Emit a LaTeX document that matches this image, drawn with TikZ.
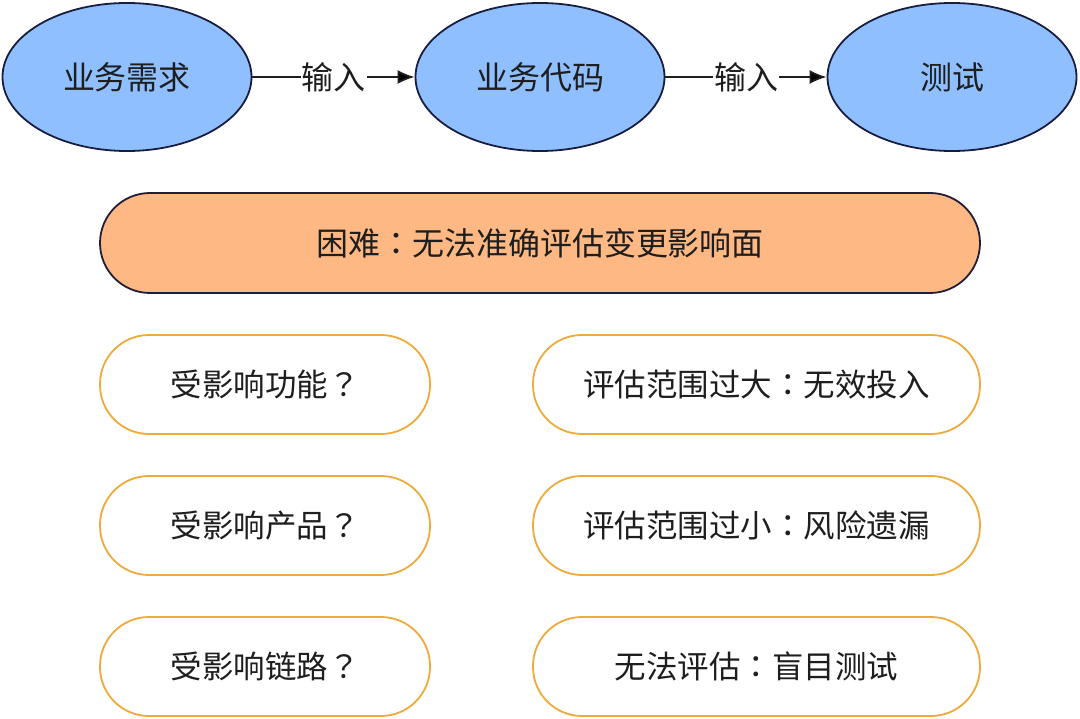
\documentclass[tikz,border=0pt]{standalone}
\usepackage{fontspec}
\setmainfont{Noto Sans CJK SC}
\newfontfamily\punctfont{Noto Sans CJK JP}
\newcommand\qcolon{{\punctfont ：}}
\newcommand\qmark{{\punctfont ？}}
\usetikzlibrary{arrows.meta, shapes.geometric}

\definecolor{ellblue}{RGB}{143,191,255}
\definecolor{ellline}{RGB}{26,30,62}
\definecolor{hardfill}{RGB}{253,184,131}
\definecolor{hardline}{RGB}{34,30,56}
\definecolor{pillline}{RGB}{238,170,58}
\definecolor{txt}{RGB}{30,30,30}

\begin{document}
\begin{tikzpicture}[x=1pt,y=-1pt,>={Latex[length=17pt,width=14pt]},
  every node/.style={text=txt,font=\fontsize{32}{38}\selectfont},
  stage/.style={ellipse,draw=ellline,fill=ellblue,line width=1.8pt,
    minimum width=249pt,minimum height=148pt,inner sep=0pt},
  hard/.style={rectangle,rounded corners=50pt,draw=hardline,fill=hardfill,
    line width=1.8pt,minimum width=880pt,minimum height=100pt},
  pill/.style={rectangle,rounded corners=49pt,draw=pillline,fill=white,
    line width=1.8pt,minimum height=99pt,font=\fontsize{31.5}{38}\selectfont}]

\useasboundingbox (0,0) rectangle (1080,719);

% define the stages of the flow
  \node[stage]    (req)  at (127,77)  {业务需求};
  \node[stage]    (code) at (540,77)  {业务代码};
  \node[stage]    (test) at (952,77)  {测试};

% the difficulty
  \node[hard]     (hard) at (540,243) {困难\qcolon 无法准确评估变更影响面};

% the open questions and their results
  \node[pill, minimum width=330pt]  (func)  at (265,384.5) {受影响功能\qmark};
  \node[pill, minimum width=330pt]  (prod)  at (265,525.5) {受影响产品\qmark};
  \node[pill, minimum width=330pt]  (chain) at (265,666.5) {受影响链路\qmark};
  \node[pill, minimum width=447pt]  (big)   at (756.5,384.5) {评估范围过大\qcolon 无效投入};
  \node[pill, minimum width=447pt]  (small) at (756.5,525.5) {评估范围过小\qcolon 风险遗漏};
  \node[pill, minimum width=447pt]  (blind) at (756.5,666.5) {无法评估\qcolon 盲目测试};

% define the links
  \path[->,draw=txt,line width=1.8pt]
        (req)  edge node[fill=white,inner sep=1pt] {输入} (code)
        (code) edge node[fill=white,inner sep=1pt] {输入} (test);

\end{tikzpicture}
\end{document}
